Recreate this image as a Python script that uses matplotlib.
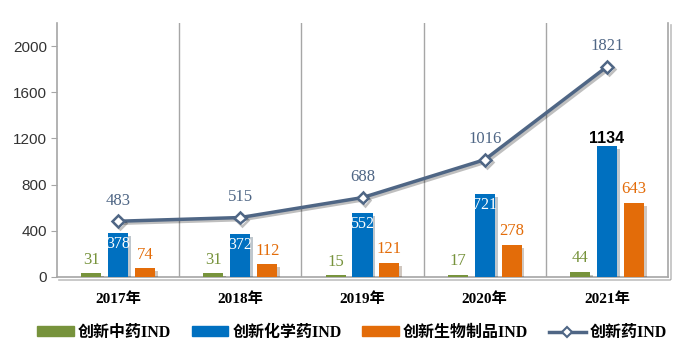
import numpy as np
import matplotlib
matplotlib.use('Agg')
from matplotlib import pyplot as plt
from matplotlib import patheffects as pe
from matplotlib.patches import Patch
from matplotlib.lines import Line2D

years = ['2017年', '2018年', '2019年', '2020年', '2021年']
tcm_ind = [31, 31, 15, 17, 44]
chem_ind = [378, 372, 552, 721, 1134]
bio_ind = [74, 112, 121, 278, 643]
total_ind = [483, 515, 688, 1016, 1821]

green = '#77933c'
blue = '#0070c0'
orange = '#e36c09'
slate = '#4f6685'
grid = '#a6a6a6'

serif = ['Liberation Serif', 'Noto Sans CJK SC']

fig = plt.figure(figsize=(6.9, 3.63), dpi=100)
ax = fig.add_axes([57 / 690, 1 - 277 / 363, 611 / 690, 254 / 363])

x = np.arange(len(years))
w = 0.165
off = 0.22
shadow = [pe.SimplePatchShadow(offset=(2, -2), alpha=0.25), pe.Normal()]

b1 = ax.bar(x - off, tcm_ind, w, color=green, zorder=3)
b2 = ax.bar(x, chem_ind, w, color=blue, zorder=3)
b3 = ax.bar(x + off, bio_ind, w, color=orange, zorder=3)
for bars in (b1, b2, b3):
    for b in bars:
        b.set_path_effects(shadow)

ax.plot(x, total_ind, color=slate, lw=2.5, marker='D', ms=6, mfc='white',
        mec=slate, mew=1.8, zorder=5,
        path_effects=[pe.SimpleLineShadow(offset=(1.5, -1.5), alpha=0.25), pe.Normal()])

for i in range(len(years)):
    ax.annotate(str(tcm_ind[i]), (x[i] - off, tcm_ind[i]), xytext=(0, 4),
                textcoords='offset points', ha='center', va='bottom',
                color=green, fontsize=12, family=serif)
    ax.annotate(str(bio_ind[i]), (x[i] + off, bio_ind[i]), xytext=(0, 4),
                textcoords='offset points', ha='center', va='bottom',
                color=orange, fontsize=12, family=serif)
    ax.annotate(str(total_ind[i]), (x[i], total_ind[i]), xytext=(0, 9),
                textcoords='offset points', ha='center', va='bottom',
                color=slate, fontsize=12, family=serif)
    if i < len(years) - 1:
        ax.annotate(str(chem_ind[i]), (x[i], chem_ind[i]), xytext=(0, -2),
                    textcoords='offset points', ha='center', va='top',
                    color='white', fontsize=11.5, family=serif)
    else:
        ax.annotate(str(chem_ind[i]), (x[i], chem_ind[i]), xytext=(0, 0),
                    textcoords='offset points', ha='center', va='bottom',
                    color='black', fontsize=11.5, fontweight='bold',
                    family='Liberation Sans')

ax.set_xlim(-0.5, len(years) - 0.5)
ax.set_ylim(0, 2200)
ax.set_yticks([0, 400, 800, 1200, 1600, 2000])
ax.set_yticklabels(['0', '400', '800', '1200', '1600', '2000'],
                   family='Liberation Sans', fontsize=11, color='#333333')
ax.tick_params(axis='y', length=4, color=grid, pad=3)

ax.set_xticks(x)
ax.set_xticklabels(years, fontsize=11, fontweight='bold', family=serif)
ax.tick_params(axis='x', length=0, pad=11)

for b in np.arange(0.5, len(years) - 0.5, 1):
    ax.axvline(b, color=grid, lw=1, zorder=1)

ax.spines['top'].set_visible(False)
for s in ('left', 'right', 'bottom'):
    ax.spines[s].set_color(grid)
    ax.spines[s].set_linewidth(1.2)
ax.spines['bottom'].set_path_effects([pe.SimpleLineShadow(offset=(1.5, -2), alpha=0.25), pe.Normal()])
ax.spines['right'].set_path_effects([pe.SimpleLineShadow(offset=(2, -1.5), alpha=0.25), pe.Normal()])

handles = [Patch(color=green), Patch(color=blue), Patch(color=orange),
           Line2D([], [], color=slate, lw=2.5, marker='D', ms=5, mfc='white',
                  mec=slate, mew=1.5)]
labels = ['创新中药IND', '创新化学药IND', '创新生物制品IND', '创新药IND']
fig.legend(handles, labels, loc='center', ncol=4, frameon=False,
           bbox_to_anchor=(352 / 690, 1 - 333 / 363), handlelength=2.3,
           handleheight=0.6, handletextpad=0.25, columnspacing=1.3,
           prop={'family': serif, 'size': 11.5, 'weight': 'bold'})

fig.savefig('out.png', dpi=100)
